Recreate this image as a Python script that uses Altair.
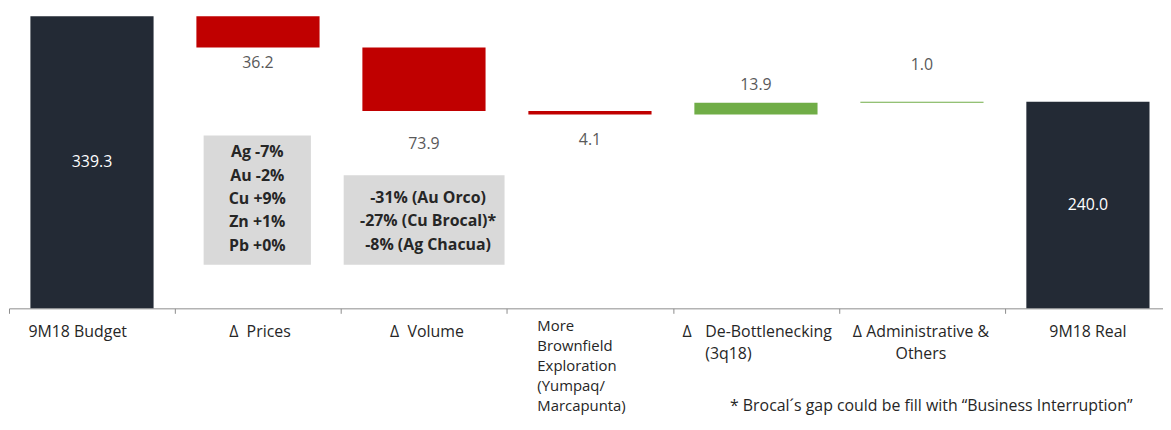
import altair as alt
import pandas as pd

# ---------------- data ----------------
categories = ["9M18 Budget", "Δ Prices", "Δ Volume", "More Brownfield Exploration",
              "Δ De-Bottlenecking", "Δ Administrative & Others", "9M18 Real"]
values = [339.3, -36.2, -73.9, -4.1, 13.9, 1.0, 240.0]
kinds = ["total", "delta", "delta", "delta", "delta", "delta", "total"]
value_labels = ["339.3", "36.2", "73.9", "4.1", "13.9", "1.0", "240.0"]
category_labels = [
    ["9M18 Budget"],
    ["Δ\u00a0\u00a0Prices"],
    ["Δ\u00a0\u00a0Volume"],
    ["More", "Brownfield", "Exploration", "(Yumpaq/", "Marcapunta)"],
    ["De-Bottlenecking", "(3q18)"],
    ["Δ Administrative &", "Others"],
    ["9M18 Real"],
]
debottleneck_prefix = "Δ"
price_notes = ["Ag -7%", "Au -2%", "Cu +9%", "Zn +1%", "Pb +0%"]
volume_notes = ["-31% (Au Orco)", "-27% (Cu Brocal)*", "-8% (Ag Chacua)"]
footnote = "* Brocal\u00b4s gap could be fill with \u201cBusiness Interruption\u201d"

# ---------------- layout / style ----------------
W, H, YMAX = 1162, 299, 345
STEP_PX = 167.14                      # width of one category slot
X_MAX = -0.5 + W / STEP_PX            # last slot runs past the window edge
BAR_HALF = 0.371                      # half bar width, in slots
PPU = H / YMAX
FONT = "Open Sans"
DARK, RED, GREEN = "#232a35", "#c00000", "#70ad47"
label_gap_px = [0, 16, 33, 26, 18, 37, 0]
label_align = ["left", "center", "center", "left", "left", "center", "center"]
label_dx = [-64, 2, 3, -53, -51, -1, 0]
label_line_h = [22, 22, 22, 20, 22, 22, 22]
label_size = [16, 16, 16, 15, 16, 16, 16]
label_top = [315, 315, 315, 310, 315, 315, 315]

rows = []
running = 0.0
for i, (c, v, k) in enumerate(zip(categories, values, kinds)):
    if k == "total":
        start, end = 0.0, v
        running = v
        color = DARK
        ly = v / 2
        lcolor = "#ffffff"
    else:
        start, end = running, running + v
        running = end
        color = RED if v < 0 else GREEN
        if v < 0:
            ly = min(start, end) - label_gap_px[i] / PPU
        else:
            ly = max(start, end) + label_gap_px[i] / PPU
        lcolor = "#595959"
    rows.append(dict(cat=c, idx=i, x1=i - BAR_HALF, x2=i + BAR_HALF,
                     start=start, end=end, color=color,
                     label_y=ly, vlabel=value_labels[i], lcolor=lcolor))
df = pd.DataFrame(rows)

x_scale = alt.Scale(domain=[-0.5, X_MAX], nice=False, zero=False)
y_scale = alt.Scale(domain=[0, YMAX], nice=False, zero=True)
x_axis = alt.Axis(title=None, labels=False, grid=False, tickSize=5,
                  values=[i - 0.5 for i in range(len(categories))],
                  domainColor="#8c8c8c", tickColor="#8c8c8c")


def xq(field):
    return alt.X(field, type="quantitative", scale=x_scale, axis=x_axis)


base = alt.Chart(df)
bars = base.mark_bar().encode(
    x=xq("x1"),
    x2="x2:Q",
    y=alt.Y("start:Q", scale=y_scale, axis=None),
    y2="end:Q",
    color=alt.Color("color:N", scale=None),
)
vtext = base.mark_text(font=FONT, fontSize=16, baseline="middle").encode(
    x=xq("idx"),
    y=alt.Y("label_y:Q", scale=y_scale, axis=None),
    text="vlabel:N",
    color=alt.Color("lcolor:N", scale=None),
)

layers = [bars, vtext]

# category labels below axis
for i in range(len(categories)):
    d = pd.DataFrame({"idx": [i], "t": ["\n".join(category_labels[i])]})
    layers.append(
        alt.Chart(d).mark_text(font=FONT, fontSize=label_size[i], color="#262626",
                               align=label_align[i], dx=label_dx[i],
                               baseline="top", lineBreak="\n",
                               lineHeight=label_line_h[i])
        .encode(x=xq("idx"), y=alt.value(label_top[i]), text="t:N")
    )
d = pd.DataFrame({"idx": [4], "t": [debottleneck_prefix]})
layers.append(
    alt.Chart(d).mark_text(font=FONT, fontSize=16, color="#262626",
                           align="left", dx=-74, baseline="top")
    .encode(x=xq("idx"), y=alt.value(315), text="t:N")
)

# annotation boxes
one = pd.DataFrame({"a": [0]})
boxes = [
    (196, 304, 125, 255, price_notes, 250, 134),
    (337, 499, 165, 255, volume_notes, 422, 180),
]
for bx1, bx2, by1, by2, notes, tx, ty in boxes:
    layers.append(
        alt.Chart(one).mark_rect(color="#d9d9d9")
        .encode(x=alt.value(bx1), x2=alt.value(bx2), y=alt.value(by1), y2=alt.value(by2))
    )
    layers.append(
        alt.Chart(pd.DataFrame({"t": ["\n".join(notes)]}))
        .mark_text(font=FONT, fontSize=16, fontWeight="bold", color="#262626",
                   align="center", baseline="top", lineBreak="\n", lineHeight=23.5)
        .encode(x=alt.value(tx), y=alt.value(ty), text="t:N")
    )

layers.append(
    alt.Chart(pd.DataFrame({"t": [footnote]}))
    .mark_text(font=FONT, fontSize=16, color="#262626", align="left", baseline="alphabetic")
    .encode(x=alt.value(726), y=alt.value(402), text="t:N")
)

chart = alt.layer(*layers).properties(
    width=W, height=H,
    autosize=alt.AutoSizeParams(type="none"),
    padding={"left": 1, "top": 2, "right": 0, "bottom": 108},
).configure_view(stroke=None)

chart.save("out.html", embed_options={"renderer": "svg", "actions": False})
